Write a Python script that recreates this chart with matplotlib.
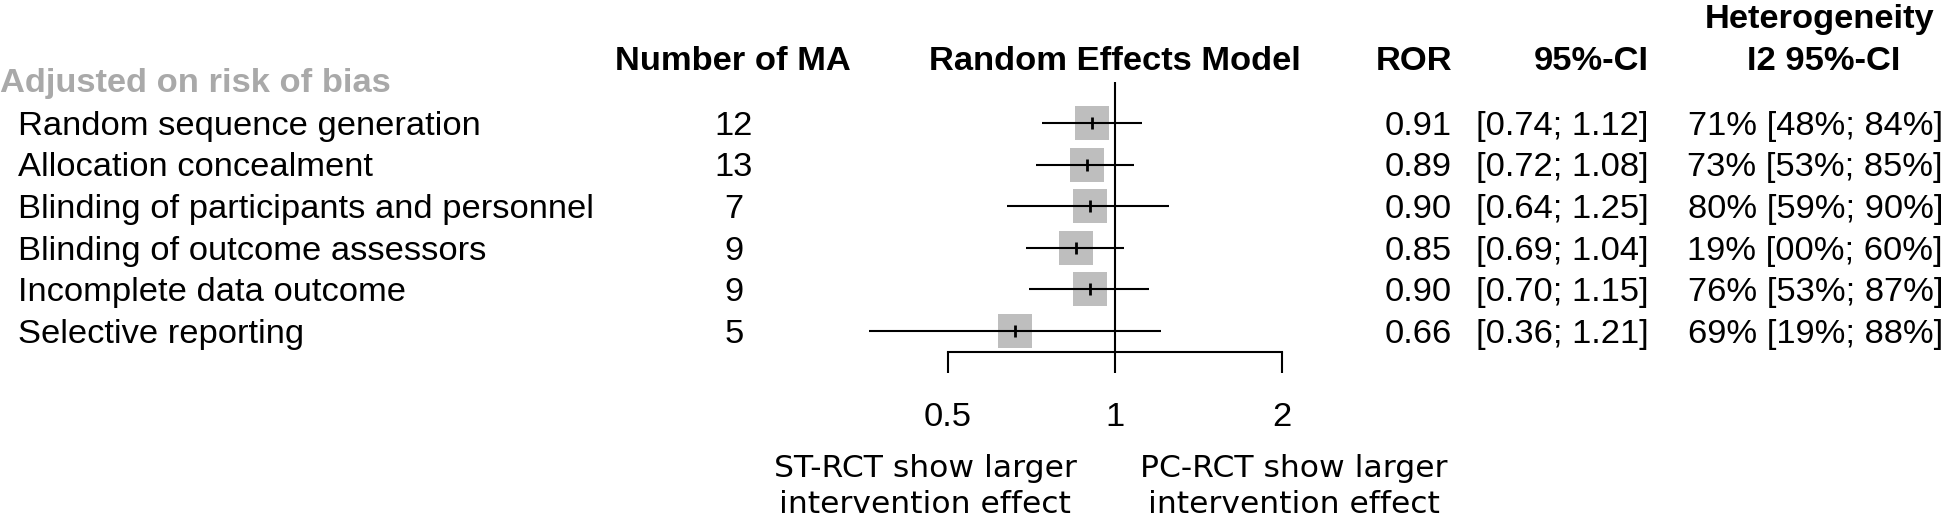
import matplotlib
matplotlib.use("Agg")
import matplotlib.pyplot as plt
import matplotlib.transforms as mtransforms

# ---------------- data ----------------
categories = [
    "Random sequence generation",
    "Allocation concealment",
    "Blinding of participants and personnel",
    "Blinding of outcome assessors",
    "Incomplete data outcome",
    "Selective reporting",
]
n_ma = [12, 13, 7, 9, 9, 5]
ror = [0.91, 0.89, 0.90, 0.85, 0.90, 0.66]
ci_low = [0.74, 0.72, 0.64, 0.69, 0.70, 0.36]
ci_high = [1.12, 1.08, 1.25, 1.04, 1.15, 1.21]
i2 = [71, 73, 80, 19, 76, 69]
i2_low = [48, 53, 59, 0, 53, 19]
i2_high = [84, 85, 90, 60, 87, 88]
group_title = "Adjusted on risk of bias"
xticks = [0.5, 1, 2]
xticklabels = ["0.5", "1", "2"]
label_left = ["ST-RCT show larger", "intervention effect"]
label_right = ["PC-RCT show larger", "intervention effect"]

# ---------------- layout ----------------
W, H = 1945, 517
SANS = "Liberation Sans"
FS = 24.8
FS_LAB = 22.6
LW = 1.5

fig = plt.figure(figsize=(W / 100, H / 100), dpi=100)

ax_left, ax_right, ax_top, ax_bot = 781, 1365.5, 82, 352
ax = fig.add_axes([ax_left / W, (H - ax_bot) / H,
                   (ax_right - ax_left) / W, (ax_bot - ax_top) / H])
ax.set_xscale("log", base=2)
ax.set_xlim(0.25, 2 ** 1.5)
ax.set_ylim(5.505, -0.986)

rows = list(range(len(categories)))

# reference line at 1
ax.axvline(1, color="black", lw=LW, zorder=2)
# boxes
ax.plot(ror, rows, ls="none", marker="s", ms=23.8, mew=0,
        color="#BEBEBE", zorder=3, clip_on=False)
# confidence intervals
ax.hlines(rows, ci_low, ci_high, color="black", lw=LW, zorder=4)
# point estimates
ax.plot(ror, rows, ls="none", marker="|", ms=9, mew=2.0,
        color="black", zorder=5, clip_on=False)

# axes styling
for s in ["top", "left", "right"]:
    ax.spines[s].set_visible(False)
ax.spines["bottom"].set_bounds(0.5, 2)
ax.spines["bottom"].set_linewidth(LW)
ax.set_yticks([])
ax.set_xticks(xticks)
ax.set_xticklabels(xticklabels, fontfamily=SANS, fontsize=FS)
ax.xaxis.set_minor_locator(matplotlib.ticker.NullLocator())
ax.tick_params(axis="x", direction="out", length=15, width=LW, pad=21)
ax.patch.set_visible(False)

tr = mtransforms.blended_transform_factory(fig.transFigure, ax.transData)


def fx(px):
    return px / W


y_head = -1.49
y_het = -2.5
y_group = -0.94
dy = 0.08

# headers
ax.text(fx(0.5), y_group, group_title, transform=tr, ha="left", va="center",
        fontsize=FS, fontweight="bold", color="#A9A9A9", family=SANS)
ax.text(fx(733), y_head, "Number of MA", transform=tr, ha="center", va="center",
        fontsize=FS, fontweight="bold", family=SANS)
ax.text(1, y_head, "Random Effects Model", ha="center", va="center",
        fontsize=FS, fontweight="bold", family=SANS,
        transform=mtransforms.blended_transform_factory(ax.transData, ax.transData))
ax.text(fx(1452), y_head, "ROR", transform=tr, ha="right", va="center",
        fontsize=FS, fontweight="bold", family=SANS)
ax.text(fx(1649), y_head, "95%-CI", transform=tr, ha="right", va="center",
        fontsize=FS, fontweight="bold", family=SANS)
ax.text(fx(1820), y_het, "Heterogeneity", transform=tr, ha="center", va="center",
        fontsize=FS, fontweight="bold", family=SANS)
ax.text(fx(1824), y_head, "I2 95%-CI", transform=tr, ha="center", va="center",
        fontsize=FS, fontweight="bold", family=SANS)

# rows
for i, name in enumerate(categories):
    y = i + dy
    ax.text(fx(18), y, name, transform=tr, ha="left", va="center",
            fontsize=FS, family=SANS)
    ax.text(fx(734), y, str(n_ma[i]), transform=tr, ha="center", va="center",
            fontsize=FS, family=SANS)
    ax.text(fx(1452), y, f"{ror[i]:.2f}", transform=tr, ha="right", va="center",
            fontsize=FS, family=SANS)
    ax.text(fx(1649), y, f"[{ci_low[i]:.2f}; {ci_high[i]:.2f}]", transform=tr,
            ha="right", va="center", fontsize=FS, family=SANS)
    ax.text(fx(1943), y, f"{i2[i]:02d}% [{i2_low[i]:02d}%; {i2_high[i]:02d}%]",
            transform=tr, ha="right", va="center", fontsize=FS, family=SANS)

# direction labels
y_l1 = (477 - 123) / 41.6
y_l2 = (513 - 123) / 41.6
for (cx, lines) in [(925, label_left), (1294, label_right)]:
    ax.text(fx(cx), y_l1, lines[0], transform=tr, ha="center", va="baseline",
            fontsize=FS_LAB, family="DejaVu Sans")
    ax.text(fx(cx), y_l2, lines[1], transform=tr, ha="center", va="baseline",
            fontsize=FS_LAB, family="DejaVu Sans")

fig.savefig("out.png", dpi=100, facecolor="white")
